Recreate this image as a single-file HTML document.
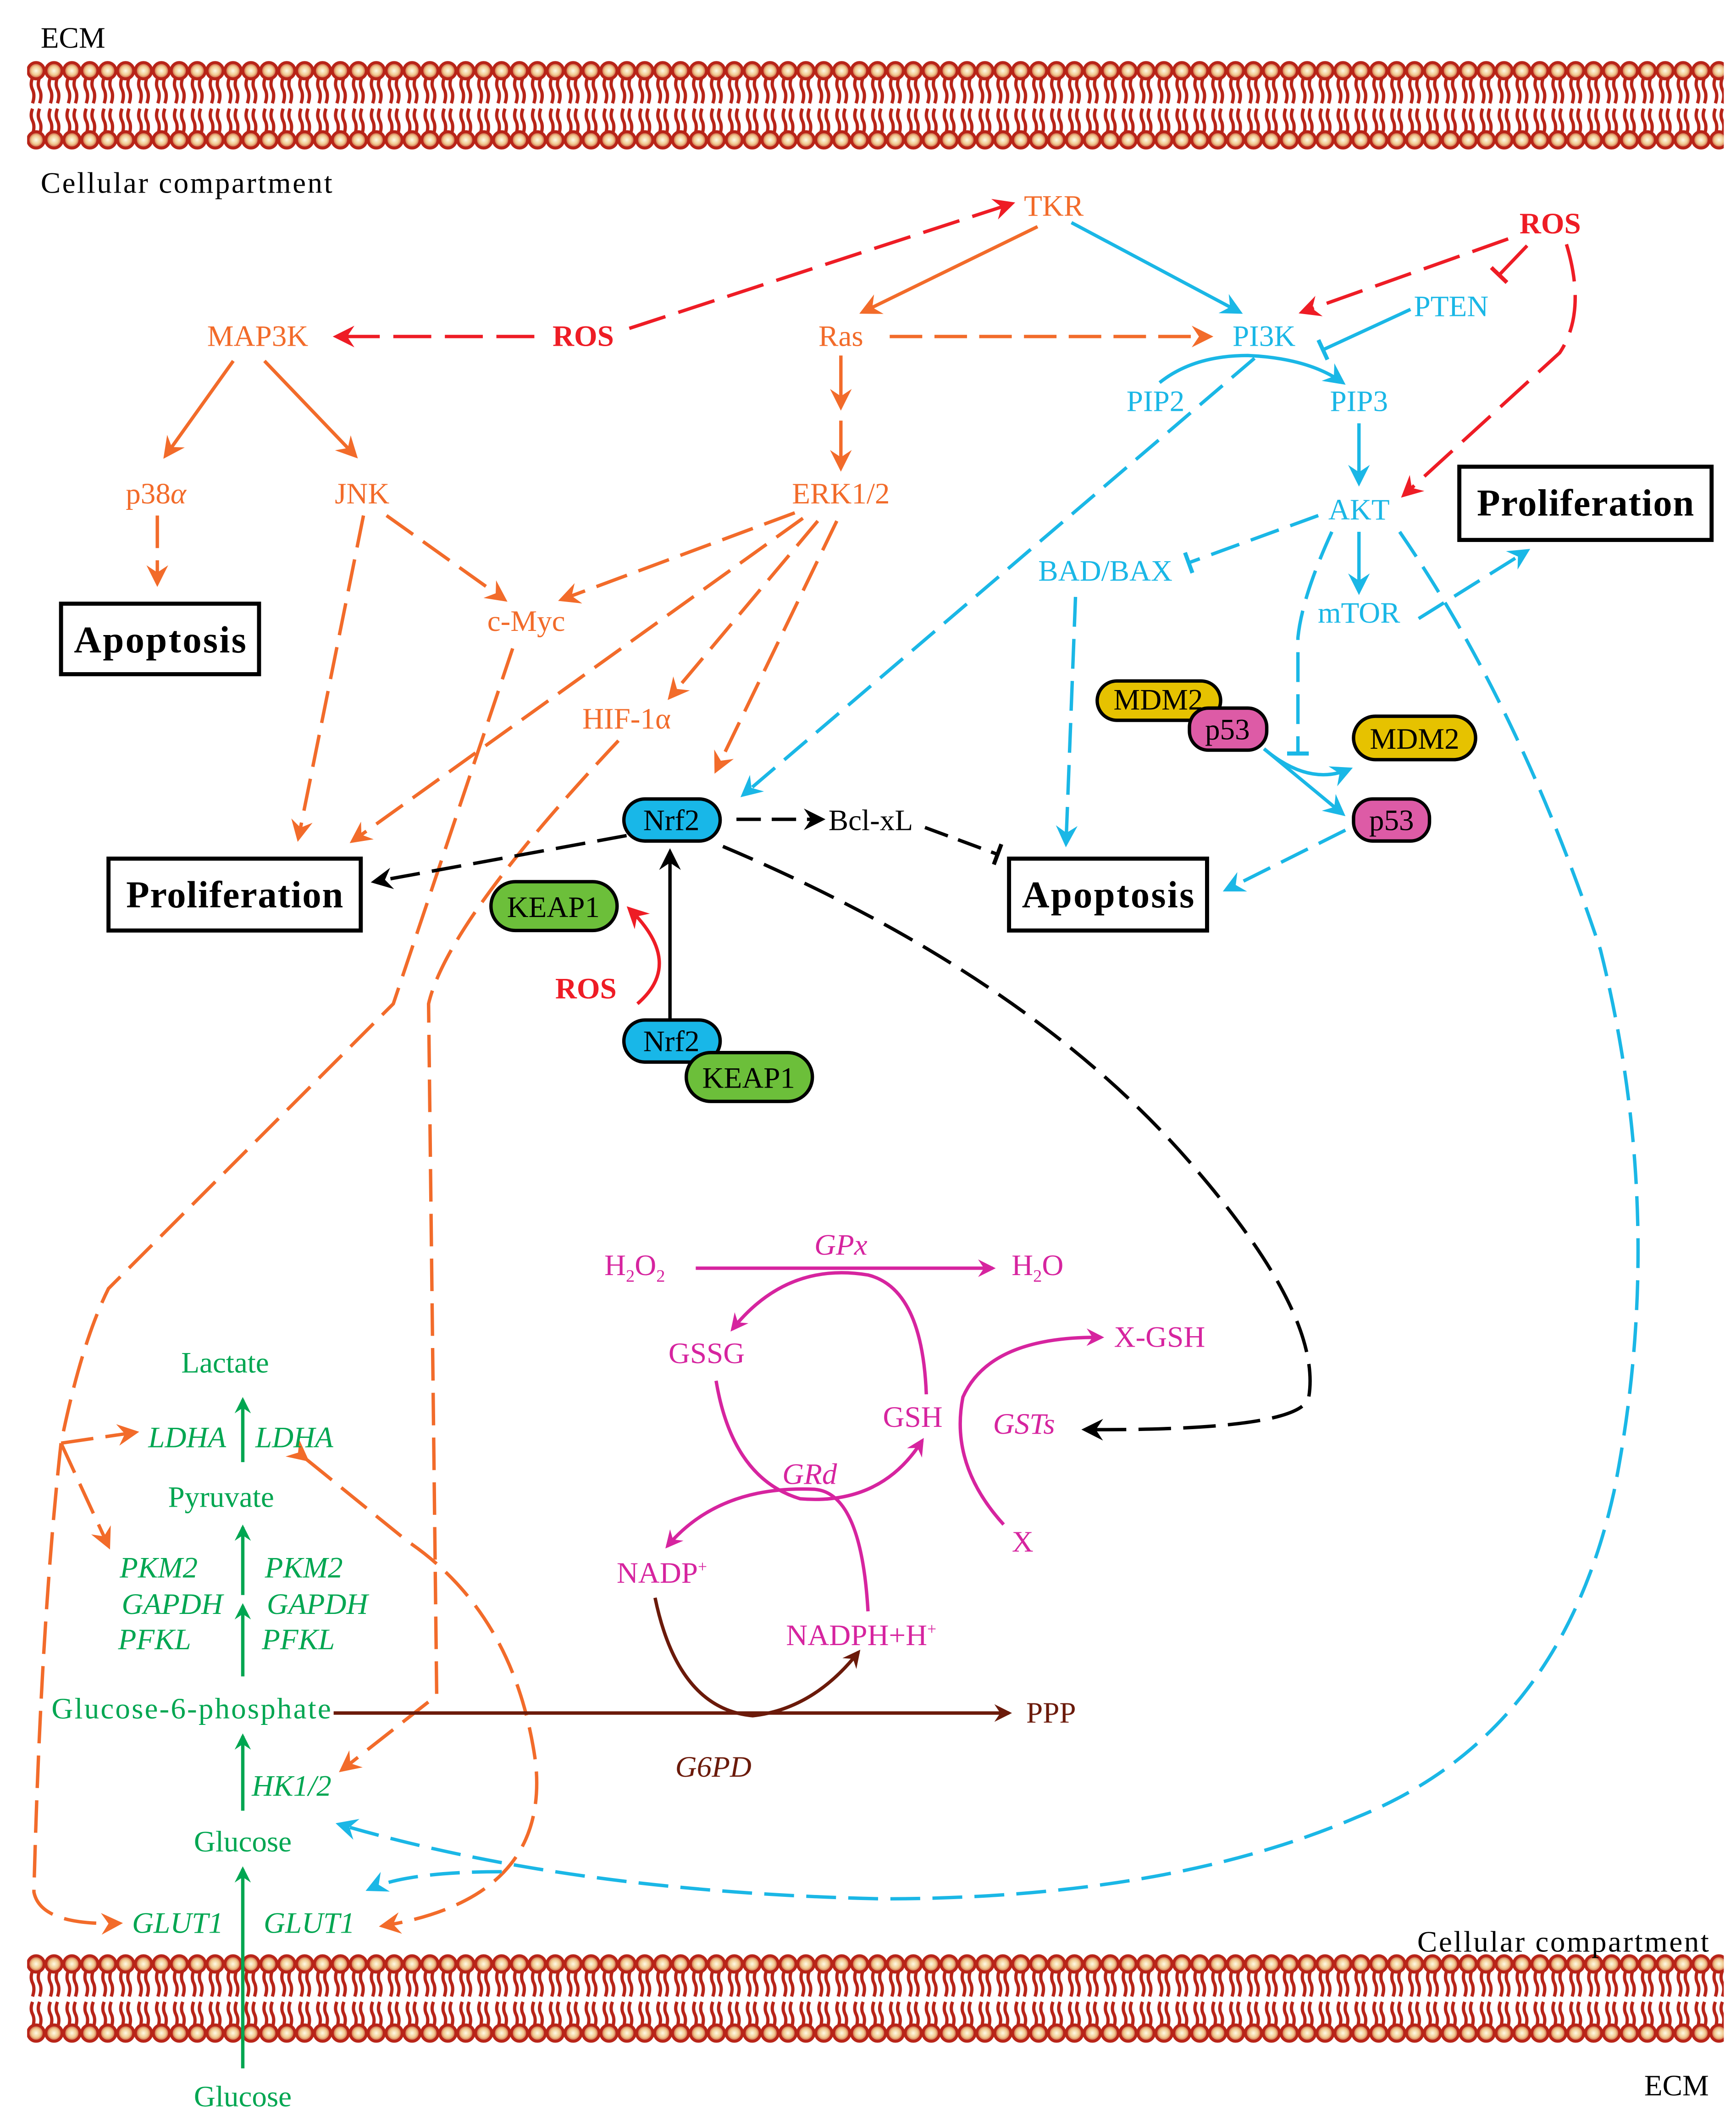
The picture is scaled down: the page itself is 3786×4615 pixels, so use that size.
<!DOCTYPE html>
<html><head><meta charset="utf-8"><style>
html,body{margin:0;padding:0;background:#fff}
svg{display:block}
text{font-family:"Liberation Serif",serif;font-size:22px}
.o{fill:#f26b2a}.r{fill:#ee1c25;font-weight:bold}.c{fill:#1ab7e6}.g{fill:#00a651}.m{fill:#d6249f}.b{fill:#6b1a0a}.k{fill:#000}
.i{font-style:italic}
</style></head><body>
<svg width="3786" height="4615" viewBox="0 0 1280 1560" xmlns="http://www.w3.org/2000/svg">
<defs>
<radialGradient id="hg"><stop offset="0" stop-color="#fffbe8"/><stop offset="0.55" stop-color="#f0c98e"/><stop offset="1" stop-color="#c0392b"/></radialGradient>
<g id="cell">
<g stroke="#b82418" stroke-width="2.4" fill="none">
<path d="M4,13 q-2,5 0,9 q2,4 0,10 M9.2,13 q-2,5 0,9 q2,4 0,10"/>
<path d="M4,36 q-2,5 0,9 q2,4 0,10 M9.2,36 q-2,5 0,9 q2,4 0,10"/>
</g>
<circle cx="6.6" cy="8" r="6" fill="url(#hg)" stroke="#b82418" stroke-width="2.2"/>
<circle cx="6.6" cy="59" r="6" fill="url(#hg)" stroke="#b82418" stroke-width="2.2"/>
</g>
<pattern id="mem" x="20" y="44" width="13.2" height="68" patternUnits="userSpaceOnUse"><use href="#cell"/></pattern>
<pattern id="mem2" x="20" y="1440" width="13.2" height="68" patternUnits="userSpaceOnUse"><use href="#cell"/></pattern>
<marker id="ao" viewBox="0 0 12 12" refX="10" refY="6" markerWidth="16" markerHeight="16" markerUnits="userSpaceOnUse" orient="auto"><path d="M0,0 L12,6 L0,12 L4,6z" fill="#f26b2a"/></marker>
<marker id="ar" viewBox="0 0 12 12" refX="10" refY="6" markerWidth="16" markerHeight="16" markerUnits="userSpaceOnUse" orient="auto"><path d="M0,0 L12,6 L0,12 L4,6z" fill="#ee1c25"/></marker>
<marker id="ac" viewBox="0 0 12 12" refX="10" refY="6" markerWidth="16" markerHeight="16" markerUnits="userSpaceOnUse" orient="auto"><path d="M0,0 L12,6 L0,12 L4,6z" fill="#1ab7e6"/></marker>
<marker id="ak" viewBox="0 0 12 12" refX="10" refY="6" markerWidth="16" markerHeight="16" markerUnits="userSpaceOnUse" orient="auto"><path d="M0,0 L12,6 L0,12 L4,6z" fill="#000"/></marker>
<marker id="ag" viewBox="0 0 12 12" refX="10" refY="6" markerWidth="12" markerHeight="12" markerUnits="userSpaceOnUse" orient="auto"><path d="M0,0 L12,6 L0,12 L4,6z" fill="#00a651"/></marker>
<marker id="am" viewBox="0 0 12 12" refX="10" refY="6" markerWidth="13" markerHeight="13" markerUnits="userSpaceOnUse" orient="auto"><path d="M0,0 L12,6 L0,12 L4,6z" fill="#d6249f"/></marker>
<marker id="ab" viewBox="0 0 12 12" refX="10" refY="6" markerWidth="13" markerHeight="13" markerUnits="userSpaceOnUse" orient="auto"><path d="M0,0 L12,6 L0,12 L4,6z" fill="#6b1a0a"/></marker>
<marker id="tc" viewBox="0 0 4 16" refX="2" refY="8" markerWidth="4" markerHeight="16" markerUnits="userSpaceOnUse" orient="auto"><rect x="0" y="0" width="3" height="16" fill="#1ab7e6"/></marker>
<marker id="tr" viewBox="0 0 4 16" refX="2" refY="8" markerWidth="4" markerHeight="16" markerUnits="userSpaceOnUse" orient="auto"><rect x="0" y="0" width="3" height="16" fill="#ee1c25"/></marker>
<marker id="tk" viewBox="0 0 4 16" refX="2" refY="8" markerWidth="4" markerHeight="16" markerUnits="userSpaceOnUse" orient="auto"><rect x="0" y="0" width="3" height="16" fill="#000"/></marker>
</defs>

<rect x="20" y="44" width="1251" height="68" fill="url(#mem)"/>
<rect x="20" y="1440" width="1251" height="68" fill="url(#mem2)"/>

<text x="30" y="35" class="k">ECM</text>
<text x="30" y="142" class="k" textLength="215">Cellular compartment</text>
<text x="1045" y="1439" class="k" textLength="215">Cellular compartment</text>
<text x="1260" y="1545" class="k" text-anchor="end">ECM</text>

<g stroke="#f26b2a" stroke-width="2.5" fill="none">
<path d="M765,167 L636,230" marker-end="url(#ao)"/>
<path d="M620,262 L620,300" marker-end="url(#ao)"/>
<path d="M620,310 L620,345" marker-end="url(#ao)"/>
<path d="M172,266 L122,336" marker-end="url(#ao)"/>
<path d="M195,266 L262,336" marker-end="url(#ao)"/>
</g>
<g stroke="#f26b2a" stroke-width="2.5" fill="none" stroke-dasharray="24 9">
<path d="M656,248 L892,248" marker-end="url(#ao)"/>
<path d="M116,380 L116,430" marker-end="url(#ao)"/>
<path d="M268,380 L220,618" marker-end="url(#ao)"/>
<path d="M285,380 L372,442" marker-end="url(#ao)"/>
<path d="M586,378 L414,442" marker-end="url(#ao)"/>
<path d="M592,382 L260,620" marker-end="url(#ao)"/>
<path d="M603,384 L494,514" marker-end="url(#ao)"/>
<path d="M617,384 L528,568" marker-end="url(#ao)"/>
<path d="M378,478 L290,740 L80,950 Q60,990 45,1064 L100,1056" marker-end="url(#ao)"/>
<path d="M45,1064 L80,1140" marker-end="url(#ao)"/>
<path d="M45,1064 Q30,1200 25,1395 Q30,1420 88,1418" marker-end="url(#ao)"/>
<path d="M456,546 Q330,680 316,740 L322,1250 L252,1305" marker-end="url(#ao)"/>
<path d="M226,1076 L300,1136 Q380,1190 395,1300 Q405,1400 282,1420" marker-start="url(#ao)" marker-end="url(#ao)"/>
</g>

<g stroke="#ee1c25" stroke-width="2.5" fill="none" stroke-dasharray="28 10">
<path d="M464,242 L746,150" marker-end="url(#ar)"/>
<path d="M394,248 L248,248" marker-end="url(#ar)"/>
<path d="M1112,176 L960,230" marker-end="url(#ar)"/>
<path d="M1155,180 Q1170,230 1150,260 L1035,365" marker-end="url(#ar)"/>
</g>
<path d="M1126,181 L1105,203" stroke="#ee1c25" stroke-width="2.5" marker-end="url(#tr)"/>
<path d="M470,740 Q505,710 464,670" stroke="#ee1c25" stroke-width="2.5" fill="none" marker-end="url(#ar)"/>

<g stroke="#1ab7e6" stroke-width="2.5" fill="none">
<path d="M790,164 L914,230" marker-end="url(#ac)"/>
<path d="M1040,228 L975,258" marker-end="url(#tc)"/>
<path d="M855,282 Q880,262 920,262 Q965,264 990,282" marker-end="url(#ac)"/>
<path d="M1002,312 L1002,356" marker-end="url(#ac)"/>
<path d="M1002,392 L1002,436" marker-end="url(#ac)"/>
<path d="M932,552 Q965,580 995,567" marker-end="url(#ac)"/>
<path d="M932,552 L990,600" marker-end="url(#ac)"/>
</g>
<g stroke="#1ab7e6" stroke-width="2.5" fill="none" stroke-dasharray="22 9">
<path d="M925,264 L548,586" marker-end="url(#ac)"/>
<path d="M972,380 L876,415" marker-end="url(#tc)"/>
<path d="M793,440 L786,622" marker-end="url(#ac)"/>
<path d="M982,392 Q960,440 957,470 L957,556" marker-end="url(#tc)"/>
<path d="M1046,456 L1126,406" marker-end="url(#ac)"/>
<path d="M992,612 L904,656" marker-end="url(#ac)"/>
<path d="M1032,392 Q1120,520 1180,700 Q1230,900 1190,1100 Q1150,1280 1000,1340 Q860,1400 650,1400 Q420,1395 250,1345" marker-end="url(#ac)"/>
<path d="M370,1380 Q300,1380 272,1393" marker-end="url(#ac)"/>
</g>

<path d="M462,616 L276,650" stroke="#000" stroke-width="2.5" fill="none" stroke-dasharray="22 9" marker-end="url(#ak)"/>
<path d="M543,604 L606,604" stroke="#000" stroke-width="2.5" fill="none" stroke-dasharray="18 8" marker-end="url(#ak)"/>
<path d="M682,610 L736,630" stroke="#000" stroke-width="2.5" fill="none" stroke-dasharray="18 8" marker-end="url(#tk)"/>
<path d="M494,752 L494,628" stroke="#000" stroke-width="2.5" fill="none" marker-end="url(#ak)"/>
<path d="M533,624 Q760,720 880,860 Q975,970 965,1030 Q960,1055 800,1054" stroke="#000" stroke-width="2.5" fill="none" stroke-dasharray="24 9" marker-end="url(#ak)"/>

<g stroke="#00a651" stroke-width="2.5" fill="none">
<path d="M179,1078 L179,1032" marker-end="url(#ag)"/>
<path d="M179,1236 L179,1184" marker-end="url(#ag)"/>
<path d="M179,1176 L179,1126" marker-end="url(#ag)"/>
<path d="M179,1335 L179,1280" marker-end="url(#ag)"/>
<path d="M179,1525 L179,1378" marker-end="url(#ag)"/>
</g>

<g stroke="#d6249f" stroke-width="2.5" fill="none">
<path d="M513,935 L732,935" marker-end="url(#am)"/>
<path d="M683,1028 Q680,950 640,940 Q580,930 540,980" marker-end="url(#am)"/>
<path d="M528,1018 Q540,1090 590,1105 Q650,1110 680,1062" marker-end="url(#am)"/>
<path d="M640,1188 Q635,1100 600,1098 Q530,1095 492,1140" marker-end="url(#am)"/>
<path d="M740,1124 Q700,1080 710,1030 Q730,985 812,986" marker-end="url(#am)"/>
</g>
<g stroke="#6b1a0a" stroke-width="2.5" fill="none">
<path d="M246,1263 L744,1263" marker-end="url(#ab)"/>
<path d="M483,1178 Q500,1260 555,1265 Q600,1260 633,1218" marker-end="url(#ab)"/>
</g>

<g fill="#fff" stroke="#000" stroke-width="3">
<rect x="1076" y="344" width="186" height="54"/>
<rect x="45" y="445" width="146" height="52"/>
<rect x="80" y="633" width="186" height="53"/>
<rect x="744" y="633" width="146" height="53"/>
</g>
<g class="k" text-anchor="middle">
<text x="1169" y="380" style="font-size:28px;font-weight:bold" textLength="160">Proliferation</text>
<text x="118" y="481" style="font-size:28px;font-weight:bold" textLength="127">Apoptosis</text>
<text x="173" y="669" style="font-size:28px;font-weight:bold" textLength="160">Proliferation</text>
<text x="817" y="669" style="font-size:28px;font-weight:bold" textLength="127">Apoptosis</text>
</g>

<g stroke="#000" stroke-width="2.5">
<rect x="809" y="502" width="91" height="29" rx="14.5" fill="#e6c200"/>
<rect x="877" y="522" width="57" height="31" rx="14" fill="#dd5ba6"/>
<rect x="998" y="528" width="90" height="32" rx="16" fill="#e6c200"/>
<rect x="998" y="589" width="56" height="31" rx="14" fill="#dd5ba6"/>
<rect x="460" y="589" width="71" height="31" rx="15.5" fill="#18b7e8"/>
<rect x="362" y="650" width="93" height="36" rx="18" fill="#6cbf3a"/>
<rect x="460" y="752" width="71" height="31" rx="15.5" fill="#18b7e8"/>
<rect x="506" y="776" width="93" height="36" rx="18" fill="#6cbf3a"/>
</g>
<g class="k" text-anchor="middle">
<text x="854" y="523">MDM2</text>
<text x="905" y="545">p53</text>
<text x="1043" y="552">MDM2</text>
<text x="1026" y="612">p53</text>
<text x="495" y="612">Nrf2</text>
<text x="408" y="676">KEAP1</text>
<text x="495" y="775">Nrf2</text>
<text x="552" y="802">KEAP1</text>
<text x="642" y="612">Bcl-xL</text>
</g>

<g text-anchor="middle">
<text x="777" y="159" class="o">TKR</text>
<text x="1143" y="172" class="r">ROS</text>
<text x="190" y="255" class="o">MAP3K</text>
<text x="430" y="255" class="r">ROS</text>
<text x="620" y="255" class="o">Ras</text>
<text x="932" y="255" class="c">PI3K</text>
<text x="1070" y="233" class="c">PTEN</text>
<text x="852" y="303" class="c">PIP2</text>
<text x="1002" y="303" class="c">PIP3</text>
<text x="115" y="371" class="o">p38<tspan class="i">α</tspan></text>
<text x="267" y="371" class="o">JNK</text>
<text x="620" y="371" class="o">ERK1/2</text>
<text x="1002" y="383" class="c">AKT</text>
<text x="815" y="428" class="c">BAD/BAX</text>
<text x="1002" y="459" class="c">mTOR</text>
<text x="388" y="465" class="o">c-Myc</text>
<text x="462" y="537" class="o">HIF-1α</text>
<text x="432" y="736" class="r">ROS</text>

<text x="468" y="940" class="m">H<tspan style="font-size:13px" dy="5">2</tspan><tspan dy="-5">O</tspan><tspan style="font-size:13px" dy="5">2</tspan></text>
<text x="620" y="925" class="m i">GPx</text>
<text x="765" y="940" class="m">H<tspan style="font-size:13px" dy="5">2</tspan><tspan dy="-5">O</tspan></text>
<text x="521" y="1005" class="m">GSSG</text>
<text x="673" y="1052" class="m">GSH</text>
<text x="855" y="993" class="m">X-GSH</text>
<text x="755" y="1057" class="m i">GSTs</text>
<text x="597" y="1094" class="m i">GRd</text>
<text x="754" y="1144" class="m">X</text>
<text x="488" y="1167" class="m">NADP<tspan style="font-size:12px" dy="-8">+</tspan></text>
<text x="635" y="1213" class="m">NADPH+H<tspan style="font-size:12px" dy="-8">+</tspan></text>
<text x="775" y="1270" class="b">PPP</text>
<text x="526" y="1310" class="b i">G6PD</text>

<text x="166" y="1012" class="g">Lactate</text>
<text x="138" y="1067" class="g i">LDHA</text>
<text x="217" y="1067" class="g i">LDHA</text>
<text x="163" y="1111" class="g">Pyruvate</text>
<text x="117" y="1163" class="g i">PKM2</text>
<text x="127" y="1190" class="g i">GAPDH</text>
<text x="114" y="1216" class="g i">PFKL</text>
<text x="224" y="1163" class="g i">PKM2</text>
<text x="234" y="1190" class="g i">GAPDH</text>
<text x="220" y="1216" class="g i">PFKL</text>
<text x="141" y="1267" class="g" textLength="206">Glucose-6-phosphate</text>
<text x="215" y="1324" class="g i">HK1/2</text>
<text x="179" y="1365" class="g">Glucose</text>
<text x="131" y="1425" class="g i">GLUT1</text>
<text x="228" y="1425" class="g i">GLUT1</text>
<text x="179" y="1553" class="g">Glucose</text>
</g>
</svg>
</body></html>
